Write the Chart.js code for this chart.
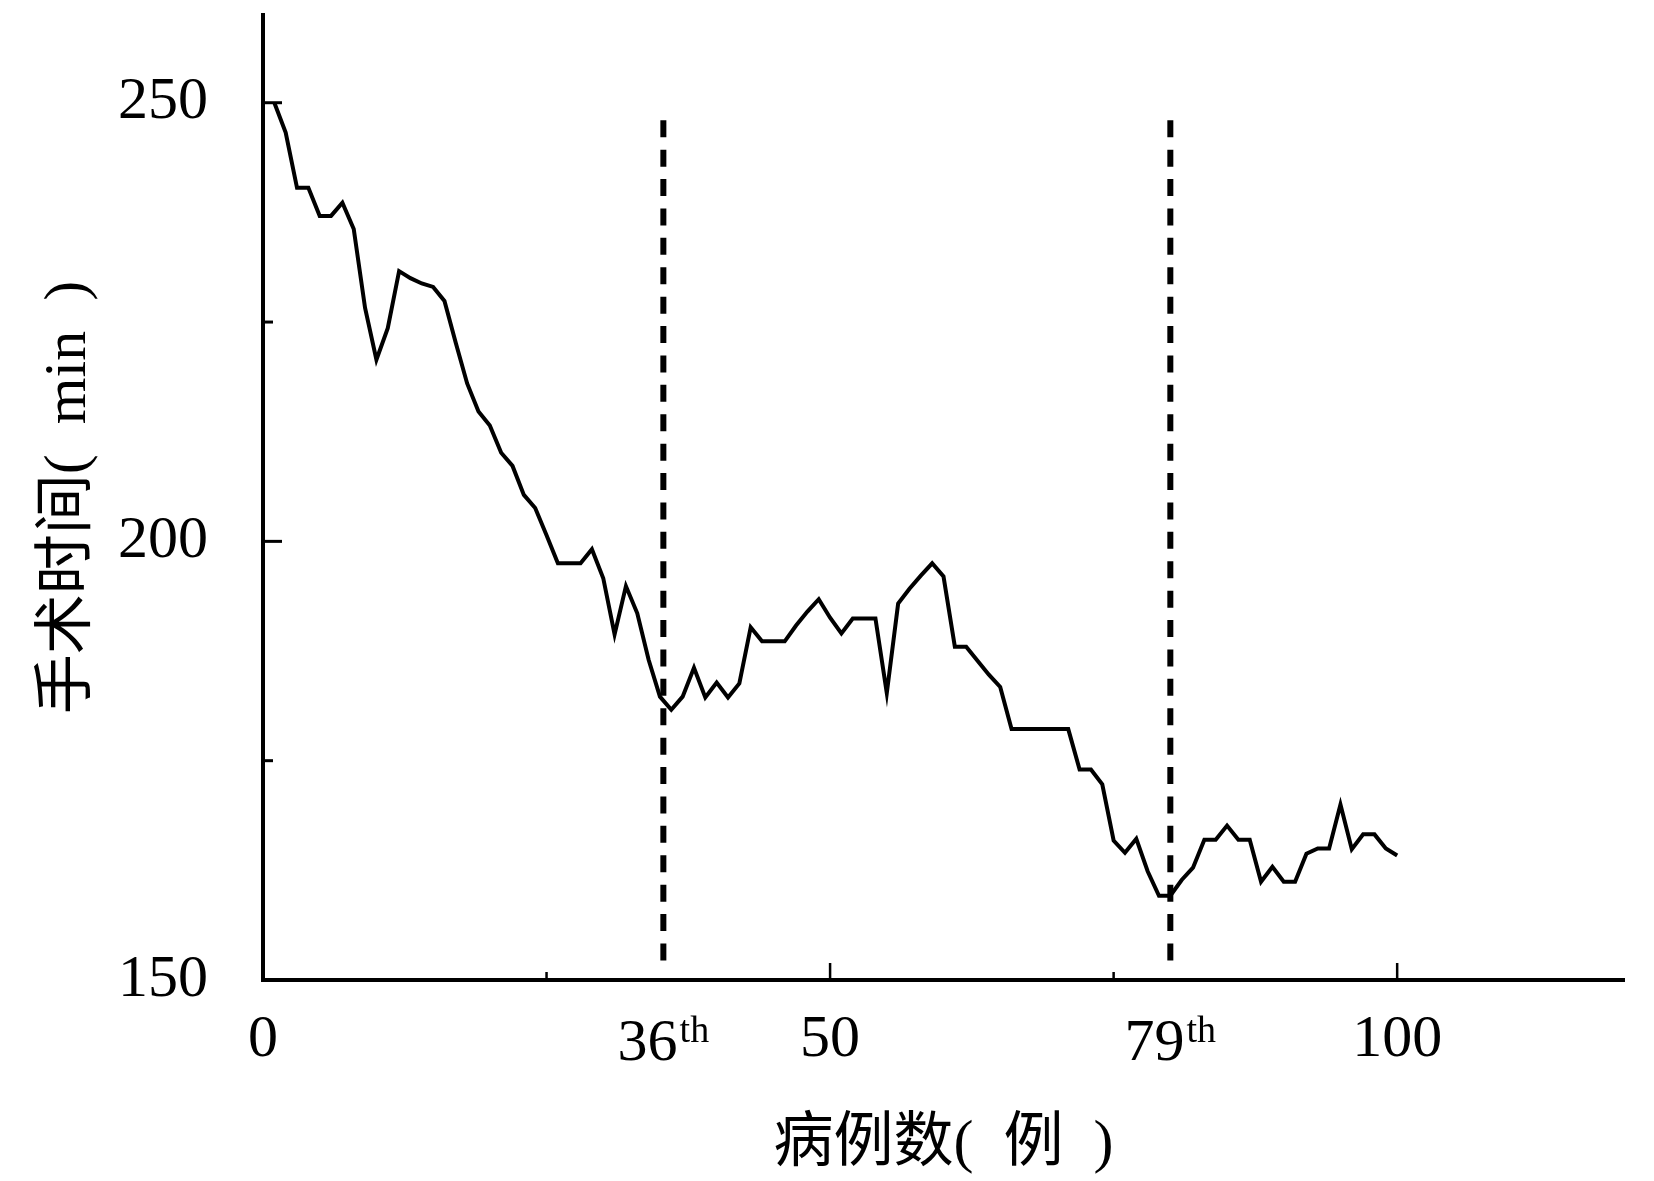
<!DOCTYPE html>
<html>
<head>
<meta charset="utf-8">
<script src="https://cdn.jsdelivr.net/npm/chart.js@4.4.0/dist/chart.umd.min.js"></script>
<style>
  html, body { margin: 0; padding: 0; background: #fff; }
</style>
</head>
<body>
<canvas id="chart" width="1654" height="1181"></canvas>
<script>
// operation time (min) for case 1..100
const opTime = [
  250, 246.6, 240.3, 240.3, 237.1, 237.1, 238.6, 235.6, 226.6, 220.7,
  224.3, 230.8, 230.0, 229.4, 229.0, 227.4, 222.6, 218.0, 214.8, 213.2,
  210.1, 208.6, 205.3, 203.8, 200.7, 197.5, 197.5, 197.5, 199.1, 195.8,
  189.4, 194.9, 191.8, 186.5, 182.3, 180.8, 182.3, 185.6, 182.2, 183.9,
  182.2, 183.8, 190.2, 188.6, 188.6, 188.6, 190.4, 192.0, 193.4, 191.3,
  189.5, 191.2, 191.2, 191.2, 182.7, 192.9, 194.6, 196.1, 197.5, 196.0,
  188.0, 188.0, 186.4, 184.8, 183.4, 178.6, 178.6, 178.6, 178.6, 178.6,
  178.6, 174.0, 174.0, 172.3, 165.9, 164.5, 166.1, 162.4, 159.6, 159.6,
  161.4, 162.8, 166.0, 166.0, 167.6, 166.0, 166.0, 161.2, 162.9, 161.2,
  161.2, 164.4, 165.0, 165.0, 170.0, 164.9, 166.6, 166.6, 165.0, 164.2
];

const xTicks = [0, 50, 100];
const xMinorTicks = [25, 75];
const yTicks = [150, 200, 250];
const yMinorTicks = [175, 225];

// learning-curve cut points
const markerCase = [35.3, 80];
const markerLabel = ['36', '79'];
const markerSuffix = 'th';
const markerRange = [152, 248];

const serif = '"Liberation Serif", "Times New Roman", serif';
const cjk = '"Liberation Serif", "Noto Sans CJK SC", serif';

const decor = {
  id: 'decor',
  afterDraw(chart) {
    const ctx = chart.ctx;
    const xs = chart.scales.x;
    const ys = chart.scales.y;
    const area = chart.chartArea;
    ctx.save();
    ctx.strokeStyle = '#000';
    ctx.fillStyle = '#000';

    // inward tick marks
    ctx.lineWidth = 3;
    yTicks.concat(yMinorTicks).forEach(v => {
      if (v === ys.min) return;
      const y = ys.getPixelForValue(v);
      const len = yTicks.includes(v) ? 19 : 10;
      ctx.beginPath();
      ctx.moveTo(area.left, y);
      ctx.lineTo(area.left + len, y);
      ctx.stroke();
    });
    ctx.lineWidth = 2.5;
    xTicks.concat(xMinorTicks).forEach(v => {
      if (v === xs.min) return;
      const x = xs.getPixelForValue(v);
      const len = xTicks.includes(v) ? 17 : 8;
      ctx.beginPath();
      ctx.moveTo(x, area.bottom);
      ctx.lineTo(x, area.bottom - len);
      ctx.stroke();
    });

    // dashed cut lines
    ctx.lineWidth = 6;
    ctx.lineCap = 'butt';
    ctx.setLineDash([17, 12.4]);
    markerCase.forEach(v => {
      const x = xs.getPixelForValue(v);
      ctx.beginPath();
      ctx.moveTo(x, ys.getPixelForValue(markerRange[1]));
      ctx.lineTo(x, ys.getPixelForValue(markerRange[0]));
      ctx.stroke();
    });
    ctx.setLineDash([]);

    // "36th" / "79th" labels
    const baseY = xs.top + 24 + 36 + 20;
    markerCase.forEach((v, i) => {
      const x = xs.getPixelForValue(v);
      ctx.font = '60px ' + serif;
      const w1 = ctx.measureText(markerLabel[i]).width;
      ctx.font = '38px ' + serif;
      const w2 = ctx.measureText(markerSuffix).width;
      const x0 = x - (w1 + w2 + 2) / 2;
      ctx.textBaseline = 'alphabetic';
      ctx.textAlign = 'left';
      ctx.font = '60px ' + serif;
      ctx.fillText(markerLabel[i], x0, baseY);
      ctx.font = '38px ' + serif;
      ctx.fillText(markerSuffix, x0 + w1 + 2, baseY - 18);
    });
    ctx.restore();
  }
};

new Chart(document.getElementById('chart'), {
  type: 'line',
  data: {
    datasets: [{
      data: opTime.map((v, i) => ({ x: i + 1, y: v })),
      borderColor: '#000',
      borderWidth: 4,
      pointRadius: 0,
      tension: 0,
      fill: false
    }]
  },
  options: {
    responsive: false,
    animation: false,
    devicePixelRatio: 1,
    layout: { padding: { top: 15, right: 30, left: 0, bottom: 0 } },
    plugins: { legend: { display: false }, tooltip: { enabled: false } },
    scales: {
      x: {
        type: 'linear',
        min: 0,
        max: 120,
        afterFit: s => { s.height = 201; s.paddingLeft = 0; s.paddingRight = 0; },
        afterBuildTicks: s => { s.ticks = xTicks.map(v => ({ value: v })); },
        grid: { display: false, drawTicks: false },
        border: { display: true, color: '#000', width: 4 },
        ticks: {
          color: '#000',
          font: { family: serif, size: 60 },
          padding: 24,
          maxRotation: 0,
          autoSkip: false
        },
        title: {
          display: true,
          text: '病例数(\u2002例\u2002)',
          color: '#000',
          font: { family: cjk, size: 60 },
          padding: { top: 0, bottom: 0 }
        }
      },
      y: {
        type: 'linear',
        min: 150,
        max: 260,
        afterFit: s => { s.width = 263; s.paddingTop = 0; s.paddingBottom = 0; },
        afterBuildTicks: s => { s.ticks = yTicks.map(v => ({ value: v })); },
        grid: { display: false, drawTicks: false },
        border: { display: true, color: '#000', width: 4 },
        ticks: {
          color: '#000',
          font: { family: serif, size: 60 },
          padding: 55
        },
        title: {
          display: true,
          text: '手术时间(\u2002min\u2002)',
          color: '#000',
          font: { family: cjk, size: 60 },
          padding: { top: 33, bottom: 0 }
        }
      }
    }
  },
  plugins: [decor]
});
</script>
</body>
</html>
